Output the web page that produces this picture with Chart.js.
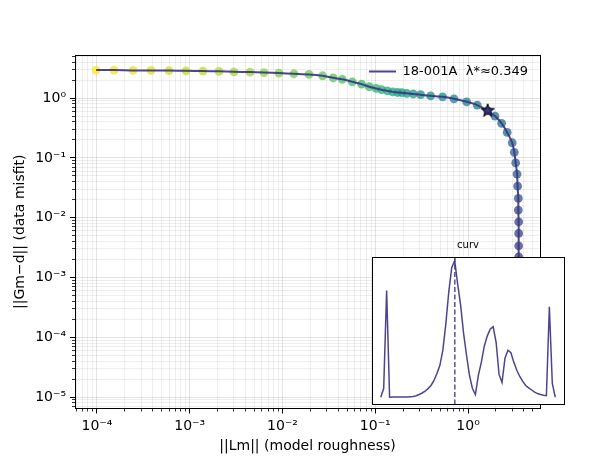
<!DOCTYPE html>
<html><head><meta charset="utf-8">
<script src="https://cdn.jsdelivr.net/npm/chart.js@4.4.1/dist/chart.umd.min.js"></script>
<style>
html,body{margin:0;padding:0;background:#fff;}
#wrap{position:relative;width:600px;height:459px;}
#wrap canvas{position:absolute;left:0;top:0;}
</style></head><body>
<div id="wrap"><canvas id="main" width="600" height="459"></canvas><canvas id="inset" width="600" height="459"></canvas></div>
<script>
// ---- data ----
const seriesLabel = '18-001A';
const lambdaStar = 0.349;
const roughness = [9.8e-5,1.53e-4,2.45e-4,3.83e-4,5.98e-4,9.12e-4,1.39e-3,2.07e-3,3.00e-3,4.47e-3,
  6.32e-3,9.16e-3,1.33e-2,1.93e-2,2.71e-2,3.52e-2,4.41e-2,5.65e-2,7.13e-2,8.61e-2,
  0.102,0.117,0.135,0.154,0.174,0.193,0.218,0.257,0.308,0.395,
  0.532,0.705,0.966,1.256,1.626,1.95,2.30,2.64,2.99,3.15,
  3.26,3.37,3.42,3.48,3.48,3.51,3.51,3.51,3.51,3.52,
  3.52,3.52,3.52,3.52,3.52,3.52,3.52,3.52,3.52,3.52];
const misfit = [2.94,2.94,2.90,2.90,2.88,2.86,2.83,2.80,2.75,2.72,
  2.67,2.62,2.55,2.49,2.36,2.18,2.06,1.87,1.71,1.55,
  1.45,1.38,1.32,1.27,1.24,1.23,1.20,1.17,1.14,1.09,
  1.05,0.973,0.867,0.764,0.614,0.500,0.378,0.267,0.179,0.124,
  0.0828,0.0536,0.0337,0.0210,0.0134,8.53e-3,5.46e-3,3.39e-3,2.22e-3,1.38e-3,
  8.5e-4,5.4e-4,3.3e-4,2.1e-4,1.29e-4,8.1e-5,5.0e-5,3.1e-5,1.95e-5,1.2e-5];
const starRoughness = [1.626];
const starMisfit = [0.614];
// curvature of the L-curve, one value per lambda (ascending lambda)
const curvature = [0.002,0.066,0.782,0.002,0.003,0.003,0.003,0.004,0.004,0.004,
  0.006,0.008,0.013,0.022,0.033,0.046,0.065,0.088,0.125,0.176,
  0.235,0.346,0.537,0.772,0.949,1.000,0.831,0.676,0.471,0.309,
  0.162,0.066,0.022,0.162,0.257,0.375,0.449,0.500,0.518,0.404,
  0.169,0.110,0.287,0.346,0.327,0.257,0.199,0.154,0.118,0.088,
  0.070,0.055,0.040,0.029,0.022,0.016,0.013,0.664,0.103,0.002];
const lambdaStarIndex = 25.05;
const xTickExponents = [-4,-3,-2,-1,0];
const yTickExponents = [-5,-4,-3,-2,-1,0];
const xTitle = '||Lm|| (model roughness)';
const yTitle = '||Gm\u2212d|| (data misfit)';
const insetTitle = 'curv';

// ---- styling helpers ----
const FONT = 'DejaVu Sans';
const LINE_COLOR = 'rgba(62,52,135,0.92)';
const SUP = {'-':'\u207B','0':'\u2070','1':'\u00B9','2':'\u00B2','3':'\u00B3','4':'\u2074','5':'\u2075','6':'\u2076','7':'\u2077','8':'\u2078','9':'\u2079'};
const sup = n => String(n).split('').map(c => SUP[c]).join('');
const decadeLabel = v => '10' + sup(Math.round(Math.log10(v)));
const VIR = ['#440154','#482475','#414487','#355f8d','#2a788e','#21918c','#22a884','#44bf70','#7ad151','#bddf26','#fde725'];
function viridis(t, a) {
  t = Math.max(0, Math.min(1, t)) * 10;
  const i = Math.min(9, Math.floor(t)), f = t - i;
  const h = s => [1,3,5].map(k => parseInt(s.substr(k,2),16));
  const c0 = h(VIR[i]), c1 = h(VIR[i+1]);
  const c = c0.map((v,k) => Math.round(v + (c1[k]-v)*f));
  return `rgba(${c[0]},${c[1]},${c[2]},${a})`;
}
function minorTicks(min, max) {
  const out = [];
  for (let e = Math.floor(Math.log10(min)); e <= Math.ceil(Math.log10(max)); e++)
    for (let m = 2; m <= 9; m++) { const v = m * Math.pow(10, e); if (v >= min && v <= max) out.push({value: v}); }
  return out;
}
function makeStar(r) {
  const s = Math.ceil(2*r + 4), c = document.createElement('canvas');
  c.width = s; c.height = s;
  const g = c.getContext('2d');
  g.beginPath();
  for (let i = 0; i < 10; i++) {
    const ang = -Math.PI/2 + i*Math.PI/5, rr = (i % 2) ? r*0.382 : r;
    g.lineTo(s/2 + rr*Math.cos(ang), s/2 + rr*Math.sin(ang));
  }
  g.closePath(); g.fillStyle = '#3d3384'; g.fill();
  g.lineWidth = 1; g.strokeStyle = '#000'; g.stroke();
  return c;
}
const frame = { id: 'frame', afterDraw(chart) {
  const a = chart.chartArea, c = chart.ctx;
  c.save(); c.strokeStyle = '#000'; c.lineWidth = 1;
  const l = Math.floor(a.left)+0.5, t = Math.floor(a.top)+0.5, r = Math.floor(a.right)+0.5, b = Math.floor(a.bottom)+0.5;
  c.strokeRect(l, t, r-l, b-t); c.restore();
}};
const whiteArea = { id: 'whiteArea', beforeDraw(chart) {
  const a = chart.chartArea, c = chart.ctx;
  c.save(); c.fillStyle = '#fff'; c.fillRect(a.left, a.top, a.right-a.left, a.bottom-a.top); c.restore();
}};
const legendRight = { id: 'legendRight', afterLayout(chart) {
  const lg = chart.legend; if (!lg) return;
  const w = lg.width;
  lg.left = chart.chartArea.right - w - 2; lg.right = lg.left + w;
  lg.top = chart.chartArea.top;
}};

const X_MIN = 5.81e-5, X_MAX = 5.96, Y_MIN = 6.46e-6, Y_MAX = 5.25;
const N = roughness.length;
const pts = roughness.map((x,i) => ({x, y: misfit[i]}));
const ptColors = roughness.map((_,i) => viridis(1 - i/(N-1), 0.78));

new Chart(document.getElementById('main'), {
  type: 'scatter',
  data: { datasets: [
    { label: seriesLabel + '  \u03BB*\u2248' + lambdaStar, data: pts, showLine: true, pointRadius: 0,
      borderColor: LINE_COLOR, backgroundColor: LINE_COLOR, borderWidth: 2, tension: 0.25, order: 2 },
    { label: 'pts', data: pts, pointRadius: 4.4, pointBorderWidth: 0, pointBackgroundColor: ptColors, order: 3 },
    { label: 'star', data: starRoughness.map((x,i) => ({x, y: starMisfit[i]})), pointStyle: makeStar(7), pointRadius: 7, order: 1 }
  ]},
  options: {
    responsive: false, devicePixelRatio: 1, animation: false,
    layout: { padding: { left: 0, top: 55, right: 60, bottom: 0 } },
    scales: {
      y2: { type: 'logarithmic', position: 'left', weight: 0, min: Y_MIN, max: Y_MAX,
        afterBuildTicks: s => { s.ticks = minorTicks(Y_MIN, Y_MAX); }, afterFit: s => { s.width = 0; },
        ticks: { display: false }, border: { display: false },
        grid: { color: 'rgba(0,0,0,0.085)', lineWidth: 0.8, tickLength: 3, tickColor: '#000', tickWidth: 0.8 } },
      y: { type: 'logarithmic', position: 'left', weight: 1, min: Y_MIN, max: Y_MAX,
        afterBuildTicks: s => { s.ticks = yTickExponents.map(e => ({value: Math.pow(10, e)})); }, afterFit: s => { s.width = 75; },
        ticks: { autoSkip: false, padding: 4, color: '#000', font: { family: FONT, size: 14 }, callback: decadeLabel },
        border: { display: false },
        grid: { color: 'rgba(0,0,0,0.14)', lineWidth: 0.8, tickLength: 5, tickColor: '#000', tickWidth: 1 },
        title: { display: true, text: yTitle, color: '#000', font: { family: FONT, size: 14 }, padding: { top: 12, bottom: 12 } } },
      x2: { type: 'logarithmic', position: 'bottom', weight: 0, min: X_MIN, max: X_MAX,
        afterBuildTicks: s => { s.ticks = minorTicks(X_MIN, X_MAX); }, afterFit: s => { s.height = 0; },
        ticks: { display: false }, border: { display: false },
        grid: { color: 'rgba(0,0,0,0.085)', lineWidth: 0.8, tickLength: 3, tickColor: '#000', tickWidth: 0.8 } },
      x: { type: 'logarithmic', position: 'bottom', weight: 1, min: X_MIN, max: X_MAX,
        afterBuildTicks: s => { s.ticks = xTickExponents.map(e => ({value: Math.pow(10, e)})); }, afterFit: s => { s.height = 50.5; },
        ticks: { autoSkip: false, maxRotation: 0, padding: 4, color: '#000', font: { family: FONT, size: 14 }, callback: decadeLabel },
        border: { display: false },
        grid: { color: 'rgba(0,0,0,0.14)', lineWidth: 0.8, tickLength: 5, tickColor: '#000', tickWidth: 1 },
        title: { display: true, text: xTitle, color: '#000', font: { family: FONT, size: 14 }, padding: { top: 4, bottom: 4 } } }
    },
    plugins: {
      tooltip: { enabled: false },
      legend: { position: 'chartArea', align: 'start',
        labels: { filter: it => it.datasetIndex === 0, usePointStyle: true, pointStyle: 'line', pointStyleWidth: 27,
          color: '#000', font: { family: FONT, size: 13 }, padding: 10 } }
    }
  },
  plugins: [frame, legendRight]
});

const Y_IN_MIN = -0.051, Y_IN_MAX = 1.027;
new Chart(document.getElementById('inset'), {
  type: 'scatter',
  data: { datasets: [
    { data: curvature.map((y,i) => ({x: i, y})), showLine: true, pointRadius: 0, borderColor: LINE_COLOR, borderWidth: 1.5, tension: 0 },
    { data: [{x: lambdaStarIndex, y: Y_IN_MIN}, {x: lambdaStarIndex, y: Y_IN_MAX}], showLine: true, pointRadius: 0,
      borderColor: LINE_COLOR, borderWidth: 1.4, borderDash: [5, 2.5] }
  ]},
  options: {
    responsive: false, devicePixelRatio: 1, animation: false,
    layout: { padding: { left: 372, right: 36, top: 239, bottom: 54.5 } },
    scales: {
      x: { type: 'linear', display: false, min: -2.95, max: curvature.length - 1 + 2.95 },
      y: { type: 'linear', display: false, min: Y_IN_MIN, max: Y_IN_MAX }
    },
    plugins: { legend: { display: false }, tooltip: { enabled: false },
      title: { display: true, text: insetTitle, color: '#000', font: { family: FONT, size: 10, weight: 'normal' }, padding: { top: 0, bottom: 6 } } }
  },
  plugins: [whiteArea, frame]
});
</script>
</body></html>
